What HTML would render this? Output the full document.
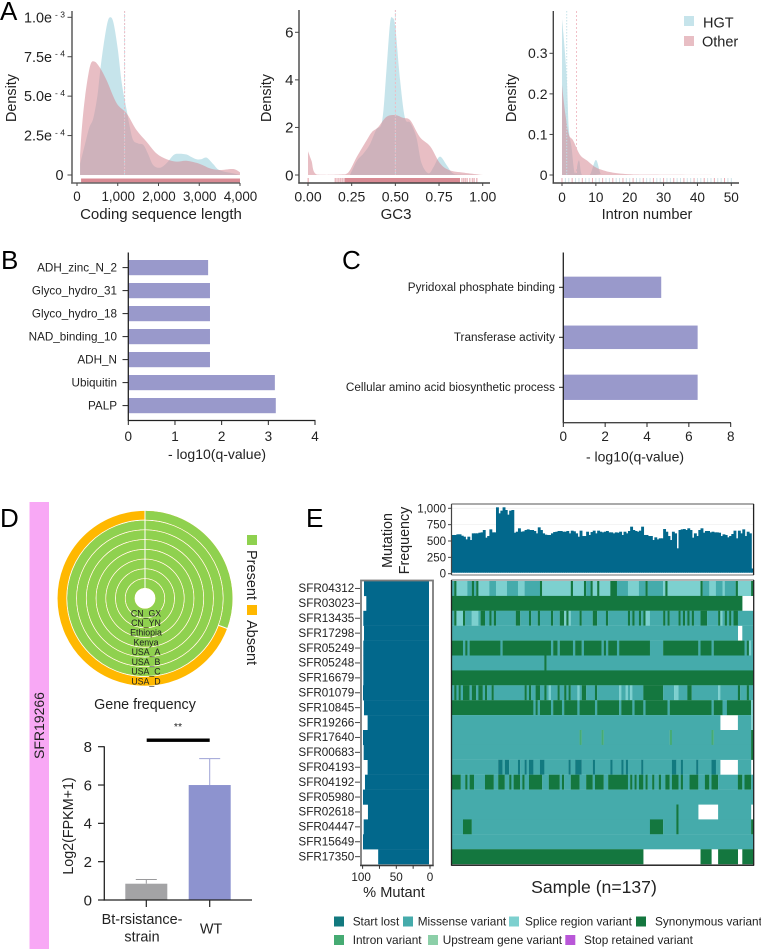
<!DOCTYPE html>
<html lang="en">
<head>
<meta charset="utf-8">
<title>HGT gene features and mutation panels</title>
<style>
html,body{margin:0;padding:0;background:#fff;}
svg{display:block;font-family:"Liberation Sans",sans-serif;}
text{fill:#222;}
.letter{font-size:26px;fill:#000;}
</style>
</head>
<body>
<svg id="fig" xmlns="http://www.w3.org/2000/svg" width="761" height="949" viewBox="0 0 761 949">
<text class="letter" x="0" y="20">A</text>
<text class="letter" x="1" y="269">B</text>
<text class="letter" x="342" y="269">C</text>
<text class="letter" x="0" y="527">D</text>
<text class="letter" x="306" y="527">E</text>

<text x="161" y="219" font-size="15" text-anchor="middle">Coding sequence length</text>
<text x="396" y="219" font-size="15" text-anchor="middle">GC3</text>
<text x="647" y="219" font-size="14.6" text-anchor="middle">Intron number</text>
<text transform="translate(16,98) rotate(-90)" font-size="14.4" text-anchor="middle">Density</text>
<text transform="translate(271,98) rotate(-90)" font-size="14.4" text-anchor="middle">Density</text>
<text transform="translate(516,98) rotate(-90)" font-size="14.4" text-anchor="middle">Density</text>

<rect x="684" y="16" width="10" height="10" fill="#a8d5e0" opacity=".65"/>
<text x="703" y="27.5" font-size="14.5">HGT</text>
<rect x="684" y="36" width="10" height="10" fill="#d58994" opacity=".55"/>
<text x="702" y="46.5" font-size="14.5">Other</text>

<text x="217" y="459" font-size="14" text-anchor="middle">- log10(q-value)</text>
<text x="635" y="461.5" font-size="14" text-anchor="middle">- log10(q-value)</text>

<rect x="29.5" y="502" width="19.5" height="447" fill="#f8a8f5"/>
<text transform="translate(44,725.5) rotate(-90)" font-size="14" text-anchor="middle">SFR19266</text>
<text x="145" y="709" font-size="14.3" text-anchor="middle">Gene frequency</text>
<rect x="247" y="535" width="10" height="10" fill="#8fd14f"/>
<text transform="translate(247,550) rotate(90)" font-size="14.5">Present</text>
<rect x="247" y="605" width="10" height="10" fill="#ffb800"/>
<text transform="translate(247,620) rotate(90)" font-size="14.5">Absent</text>

<text transform="translate(73,826) rotate(-90)" font-size="14.3" text-anchor="middle">Log2(FPKM+1)</text>
<rect x="146.7" y="738.5" width="63" height="3.4" fill="#000"/>
<text x="178" y="730" font-size="10.5" text-anchor="middle">**</text>

<text transform="translate(392,540.5) rotate(-90)" font-size="14.3" text-anchor="middle">Mutation</text>
<text transform="translate(409,540.5) rotate(-90)" font-size="14.3" text-anchor="middle">Frequency</text>
<text x="394" y="897" font-size="14.6" text-anchor="middle">% Mutant</text>
<text x="594" y="893" font-size="17.6" text-anchor="middle">Sample (n=137)</text>

<g font-size="11.8">
<rect x="334" y="916.5" width="10" height="10" fill="#12797f"/>
<text x="352.7" y="925.5">Start lost</text>
<rect x="403" y="916.5" width="10" height="10" fill="#45abab"/>
<text x="417.7" y="925.5">Missense variant</text>
<rect x="509" y="916.5" width="10" height="10" fill="#7dd0cf"/>
<text x="525" y="925.5">Splice region variant</text>
<rect x="636" y="916.5" width="10" height="10" fill="#14773f"/>
<text x="655" y="925.5">Synonymous variant</text>
<rect x="334" y="935" width="10" height="10" fill="#46ab73"/>
<text x="352.7" y="944">Intron variant</text>
<rect x="428" y="935" width="10" height="10" fill="#8ccfa8"/>
<text x="442.7" y="944">Upstream gene variant</text>
<rect x="565.3" y="935" width="10" height="10" fill="#b957d8"/>
<text x="584" y="944">Stop retained variant</text>
</g>
</svg>

<script>
/* ---------- Panel A: density readings ---------- */
const codingHgtX = [75,200,300,400,500,564,650,750,826,900,1000,1100,1220,1300,1380,1500,1630,1750,1870,2040,2200,2370,2500,2690,2800,2935,3050,3180,3340,3500,3835,4000];
const codingHgtY = [0.07,0.2,0.3,0.36,0.5,0.65,0.82,0.97,1.0,0.96,0.8,0.58,0.41,0.3,0.22,0.2,0.19,0.13,0.063,0.046,0.075,0.127,0.135,0.13,0.115,0.1,0.1,0.11,0.07,0.03,0.01,0];
const codingOtherX = [75,120,200,320,425,564,728,973,1220,1460,1710,1950,2200,2445,2690,3017,3263,3500,3835,4000];
const codingOtherY = [0.12,0.3,0.5,0.69,0.72,0.68,0.6,0.455,0.39,0.285,0.21,0.137,0.1,0.085,0.09,0.07,0.042,0.032,0.038,0.017];
const gc3HgtX = [0.24,0.28,0.317,0.355,0.39,0.425,0.45,0.47,0.485,0.5,0.527,0.555,0.585,0.62,0.65,0.69,0.72,0.755,0.795,0.83,0.89,1];
const gc3HgtY = [0,0.6,0.9,1.3,1.9,2.3,4.5,6.4,6.6,6.2,4,2.4,2.2,1.6,0.5,0.07,0.35,0.77,0.4,0.07,0.01,0];
const gc3OtherX = [0,0.02,0.05,0.18,0.23,0.28,0.335,0.365,0.4,0.45,0.5,0.545,0.585,0.64,0.7,0.755,0.81,0.89,1];
const gc3OtherY = [1,0.6,0.02,0.02,0.1,0.77,1.45,1.8,2,2.45,2.52,2.4,2.3,1.6,1.2,0.5,0.2,0.1,0];
const intronHgtX = [0,0.4,1.4,2,2.8,3.8,5,5.9,8.2,10,11.4,13,50];
const intronHgtY = [0.385,0.35,0.24,0.115,0.07,0.004,0.036,0,0,0.037,0.004,0,0];
const intronOtherX = [0,1,2,3.3,5.3,7.5,9.7,12,15,20,26,50];
const intronOtherY = [0.222,0.15,0.1,0.085,0.05,0.035,0.02,0.012,0.006,0.002,0.001,0];
const codingMeans = [1165,1170];
const gc3Means = [0.5,0.5];
const intronMeans = [1.4,4.3];
const codingRugRange = [100,4000];
const gc3RugRange = [0.21,0.87];
const gc3RugSingles = [0,0.155,0.165,0.175,0.185,0.195,0.205,0.88,0.89,0.9,0.91,0.925,0.94,0.95,0.965];
const intronRug = [0,1,2,3,4,5,6,7,8,9,10,11,12,13,14,15,16,17,18,19,20,21,22,23,24,25,26,27,28,29,30,31,32,33,34,35,36,37,38,39,40,41,42,43,44,45,46,47,48,49,50];
const codingXTicks = [0,1000,2000,3000,4000];
const codingXLabels = ['0','1,000','2,000','3,000','4,000'];
const codingYTicks = [0,0.25,0.5,0.75,1];
const codingYMantissas = ['0','2.5e','5.0e','7.5e','1.0e'];
const codingYExponents = ['','- 4','- 4','- 4','- 3'];
const gc3XTicks = [0,0.25,0.5,0.75,1];
const gc3XLabels = ['0.00','0.25','0.50','0.75','1.00'];
const gc3YTicks = [0,2,4,6];
const intronXTicks = [0,10,20,30,40,50];
const intronYTicks = [0,0.1,0.2,0.3];
const intronYLabels = ['0','0.1','0.2','0.3'];

/* ---------- Panels B and C ---------- */
const pfamTerms = ['ADH_zinc_N_2','Glyco_hydro_31','Glyco_hydro_18','NAD_binding_10','ADH_N','Ubiquitin','PALP'];
const pfamValues = [1.71,1.75,1.75,1.75,1.75,3.14,3.16];
const pfamTicks = [0,1,2,3,4];
const goTerms = ['Pyridoxal phosphate binding','Transferase activity','Cellular amino acid biosynthetic process'];
const goValues = [4.68,6.42,6.42];
const goTicks = [0,2,4,6,8];

/* ---------- Panel D ---------- */
const ringNames = ['CN_GX','CN_YN','Ethiopia','Kenya','USA_A','USA_B','USA_C','USA_D'];
const ringPresent = [1,1,1,1,1,1,1,0.306];
const expressionGroups = ['Bt-rsistance-','WT'];
const expressionMeans = [0.85,6];
const expressionErrors = [1.07,7.38];
const expressionTicks = [0,2,4,6,8];

/* ---------- Panel E ---------- */
const mutationFrequency = [592,592,602,602,581,566,525,566,515,617,617,617,627,632,668,551,576,678,632,632,
1015,923,964,1015,974,903,964,974,
627,642,694,642,648,668,678,668,668,653,617,709,668,617,597,592,592,617,637,642,653,653,642,642,653,617,658,648,617,566,658,576,576,642,592,637,658,617,658,
642,632,642,653,632,632,617,632,627,642,592,642,617,653,719,668,653,642,658,719,592,592,576,576,515,556,525,541,541,683,
642,576,515,642,617,388,668,678,683,668,694,668,551,617,576,668,694,627,653,653,632,642,632,632,627,576,602,592,556,576,
607,658,541,658,617,678,576,642,617,80];
const frequencyTicks = [0,250,500,750,1000];
const frequencyLabels = ['0','250','500','750','1,000'];
const geneNames = ['SFR04312','SFR03023','SFR13435','SFR17298','SFR05249','SFR05248','SFR16679','SFR01079','SFR10845','SFR19266','SFR17640','SFR00683','SFR04193','SFR04192','SFR05980','SFR02618','SFR04447','SFR15649','SFR17350'];
const percentMutant = [98.5,95,99.5,98.5,99.5,99.5,99.5,100,98.5,93,100,99,93,97,100,92.5,99,100,77];
const percentTicks = [0,25,50,75,100];
const percentLabels = ['0','','50','','100'];
const sampleCount = 137;
const rowBase = ['P','S','M','M','S','M','S','M','S','M','M','M','M','M','M','M','M','M','S'];
/* each entry: [first sample, run length, variant]; '.' means no mutation */
const rowRuns = [
[[0,1,'M'],[1,1,'S'],[7,3,'M'],[9,1,'S'],[10,1,'M'],[11,1,'S'],[17,3,'M'],[25,5,'M'],[33,8,'M'],[40,1,'S'],[54,1,'S'],[60,1,'S'],[61,2,'M'],[63,1,'S'],[66,1,'S'],[72,3,'S'],[75,5,'M'],[85,4,'M'],[88,1,'S'],[89,7,'M'],[97,1,'S'],[113,1,'S'],[114,3,'M'],[120,3,'M'],[124,5,'M'],[129,1,'S'],[136,1,'S']],
[[132,5,'.']],
[[1,1,'S'],[2,3,'P'],[5,1,'S'],[9,3,'P'],[13,1,'S'],[14,1,'S'],[17,1,'S'],[19,1,'S'],[29,2,'S'],[35,1,'S'],[39,1,'S'],[45,1,'S'],[49,2,'S'],[51,1,'P'],[52,1,'S'],[53,1,'P'],[58,1,'S'],[64,1,'S'],[65,1,'S'],[70,1,'S'],[80,1,'S'],[82,1,'S'],[85,1,'S'],[87,1,'S'],[88,2,'P'],[96,1,'S'],[98,1,'S'],[103,1,'S'],[105,1,'S'],[107,1,'S'],[109,1,'S'],[113,3,'S'],[121,1,'S'],[122,1,'P'],[124,1,'S'],[126,1,'S'],[128,1,'S'],[129,1,'S']],
[[130,2,'.']],
[[5,1,'M'],[7,1,'M'],[22,1,'M'],[45,1,'M'],[48,1,'M'],[55,1,'M'],[59,1,'M'],[68,1,'M'],[70,1,'M'],[75,1,'M'],[90,6,'M'],[112,1,'M'],[118,1,'M'],[133,1,'M'],[135,1,'P'],[136,1,'M']],
[[42,1,'S']],
[],
[[1,1,'S'],[3,1,'S'],[5,3,'S'],[9,1,'S'],[10,1,'S'],[12,1,'S'],[13,1,'S'],[15,1,'S'],[18,1,'S'],[33,1,'S'],[35,1,'S'],[38,1,'S'],[39,1,'S'],[42,1,'S'],[44,1,'P'],[48,1,'S'],[51,1,'S'],[53,1,'S'],[57,1,'P'],[59,1,'S'],[60,1,'S'],[65,1,'S'],[76,1,'P'],[79,1,'P'],[81,1,'P'],[87,3,'S'],[90,6,'S'],[101,2,'P'],[107,1,'S'],[108,1,'S'],[121,1,'P'],[130,1,'S'],[134,1,'S']],
[[37,1,'M'],[39,1,'M'],[45,1,'M'],[50,1,'M'],[57,1,'M'],[65,1,'M'],[76,1,'M'],[82,1,'M'],[87,1,'M'],[98,1,'M'],[118,1,'M'],[123,2,'M'],[136,1,'P']],
[[122,8,'.'],[136,1,'P']],
[[58,1,'I'],[68,1,'I'],[99,1,'I'],[118,1,'I'],[136,1,'S']],
[[136,1,'S']],
[[21,1,'L'],[22,1,'L'],[24,2,'L'],[30,1,'L'],[33,1,'L'],[35,2,'L'],[40,1,'L'],[41,1,'L'],[53,1,'L'],[56,3,'L'],[64,1,'L'],[72,1,'L'],[77,1,'L'],[79,1,'L'],[86,1,'L'],[100,2,'L'],[104,1,'L'],[111,1,'L'],[118,2,'L'],[122,8,'.'],[136,1,'.']],
[[0,4,'S'],[6,1,'S'],[8,2,'S'],[15,2,'S'],[17,2,'S'],[21,3,'S'],[26,1,'S'],[28,3,'S'],[32,1,'S'],[35,6,'S'],[44,5,'S'],[50,1,'S'],[54,1,'S'],[55,3,'S'],[61,3,'S'],[65,2,'S'],[67,2,'S'],[71,6,'S'],[77,3,'S'],[81,1,'S'],[83,1,'S'],[85,2,'S'],[88,1,'S'],[91,1,'S'],[94,1,'S'],[97,2,'S'],[100,3,'S'],[104,1,'S'],[108,4,'S'],[115,2,'S'],[118,3,'S'],[130,2,'S'],[133,3,'S']],
[],
[[102,1,'S'],[112,9,'.'],[136,1,'.']],
[[5,4,'S'],[90,6,'S'],[102,1,'S'],[136,1,'S']],
[],
[[87,26,'.'],[118,3,'.'],[130,2,'.']]
];

/* ---------- helpers ---------- */
const NS = 'http://www.w3.org/2000/svg';
const fig = document.getElementById('fig');
const AXIS = '#444';
const COL_HGT = '#a8d5e0';
const COL_OTHER = '#d58994';
const COL_BAR = '#9999cb';
const VARIANT_COLORS = {M:'#45abab',S:'#14773f',P:'#7dd0cf',L:'#127a80',I:'#46ab73'};

function mk(tag, attrs) {
  const n = document.createElementNS(NS, tag);
  for (const k in attrs) n.setAttribute(k, attrs[k]);
  fig.appendChild(n);
  return n;
}
function line(name, x1, y1, x2, y2, stroke, w) {
  const n = mk('line', {x1:x1, y1:y1, x2:x2, y2:y2, stroke:stroke || AXIS, 'stroke-width':w || 1.3});
  
  
  return n;
}
function rect(name, x, y, w, h, fill) {
  const n = mk('rect', {x:x, y:y, width:w, height:h, fill:fill});
  
  
  return n;
}
function label(name, x, y, str, size, anchor) {
  const n = mk('text', {x:x, y:y + size * 0.35, 'font-size':size, 'text-anchor':anchor || 'middle'});
  n.textContent = str;
  
  
  return n;
}
function linScale(d0, d1, r0, r1) {
  return v => r0 + (v - d0) * (r1 - r0) / (d1 - d0);
}
function densityPath(xs, ys, sx, sy) {
  const px = xs.map(sx), base = sy(0);
  const py = ys.map(v => sy(v));
  let d = 'M' + px[0] + ' ' + base + 'L' + px[0] + ' ' + py[0];
  for (let i = 0; i < px.length - 1; i++) {
    const p0 = Math.max(i - 1, 0), p3 = Math.min(i + 2, px.length - 1);
    const c1x = px[i] + (px[i + 1] - px[p0]) / 6;
    const c1y = Math.min(base, py[i] + (py[i + 1] - py[p0]) / 6);
    const c2x = px[i + 1] - (px[p3] - px[i]) / 6;
    const c2y = Math.min(base, py[i + 1] - (py[p3] - py[i]) / 6);
    d += 'C' + c1x + ' ' + c1y + ' ' + c2x + ' ' + c2y + ' ' + px[i + 1] + ' ' + py[i + 1];
  }
  return d + 'L' + px[px.length - 1] + ' ' + base + 'Z';
}
function densityArea(name, xs, ys, sx, sy, fill, op) {
  const n = mk('path', {d:densityPath(xs, ys, sx, sy), fill:fill, opacity:op});
  
  
  return n;
}
function meanLines(prefix, means, sx, top, bottom) {
  const h = line(prefix + '-hgt-mean-line', sx(means[0]), top, sx(means[0]), bottom, '#bfe0e8', 0.9);
  h.setAttribute('stroke-dasharray', '1.5 1.5');
  const o = line(prefix + '-other-mean-line', sx(means[1]), top, sx(means[1]), bottom, '#f0b9c2', 0.9);
  o.setAttribute('stroke-dasharray', '2 2');
}

/* ---------- Panel A ---------- */
const BASE_Y = 175, AXIS_Y = 183;

/* coding sequence length */
const xA1 = linScale(0, 4000, 77, 240);
const yA1 = linScale(0, 1, BASE_Y, 17.3);
densityArea('coding-density-hgt', codingHgtX, codingHgtY, xA1, yA1, COL_HGT, 0.65);
densityArea('coding-density-other', codingOtherX, codingOtherY, xA1, yA1, COL_OTHER, 0.55);
meanLines('coding', codingMeans, xA1, 11, BASE_Y);
rect('coding-rug', xA1(codingRugRange[0]), 178.5, xA1(codingRugRange[1]) - xA1(codingRugRange[0]), 4.5, '#d98b94');
line('coding-y-axis', 72, 11, 72, AXIS_Y + 0.6, '#666', 1.6);
line('coding-x-axis', 71.2, AXIS_Y, 240, AXIS_Y, '#666', 1.6);
codingXTicks.forEach((t, i) => {
  line('coding-x-tick', xA1(t), AXIS_Y, xA1(t), AXIS_Y + 3, AXIS, 1);
  label('coding-x-tick-label', xA1(t) + (i === 0 ? 0 : 0.5), 196.5, codingXLabels[i], 13.4);
});
codingYTicks.forEach((t, i) => {
  line('coding-y-tick', 67.5, yA1(t), 72, yA1(t), AXIS, 1);
  if (codingYExponents[i]) {
    label('coding-y-tick-mantissa', 52, yA1(t), codingYMantissas[i], 14.4, 'end');
    label('coding-y-tick-exponent', 55, yA1(t) - 3, codingYExponents[i], 8.5, 'start');
  } else {
    label('coding-y-tick-zero', 63.5, yA1(t), codingYMantissas[i], 14.4, 'end');
  }
});

/* GC3 */
const xA2 = linScale(0, 1, 308, 482.7);
const yA2 = linScale(0, 6, BASE_Y, 32.3);
densityArea('gc3-density-hgt', gc3HgtX, gc3HgtY, xA2, yA2, COL_HGT, 0.65);
densityArea('gc3-density-other', gc3OtherX, gc3OtherY, xA2, yA2, COL_OTHER, 0.55);
meanLines('gc3', gc3Means, xA2, 10, BASE_Y);
rect('gc3-rug-dense', xA2(gc3RugRange[0]), 178, xA2(gc3RugRange[1]) - xA2(gc3RugRange[0]), 5, '#d98b94');
gc3RugSingles.forEach(v => {
  rect('gc3-rug-mark', xA2(v) - 0.5, 178, 1.4, 5, '#eab9bf');
});
line('gc3-y-axis', 299, 10, 299, AXIS_Y + 0.6, AXIS, 1.4);
line('gc3-x-axis', 298.3, AXIS_Y, 490, AXIS_Y, AXIS, 1.4);
gc3XTicks.forEach((t, i) => {
  line('gc3-x-tick', xA2(t), AXIS_Y, xA2(t), AXIS_Y + 3, AXIS, 1);
  label('gc3-x-tick-label', xA2(t), 196.5, gc3XLabels[i], 14);
});
gc3YTicks.forEach(t => {
  line('gc3-y-tick', 295, yA2(t), 299, yA2(t), AXIS, 1);
  label('gc3-y-tick-label', 293.5, yA2(t), String(t), 15, 'end');
});

/* intron number */
const xA3 = linScale(0, 50, 562, 731.3);
const yA3 = linScale(0, 0.3, BASE_Y, 53.3);
densityArea('intron-density-hgt', intronHgtX, intronHgtY, xA3, yA3, COL_HGT, 0.65);
densityArea('intron-density-other', intronOtherX, intronOtherY, xA3, yA3, COL_OTHER, 0.55);
meanLines('intron', intronMeans, xA3, 11, BASE_Y);
intronRug.forEach((v, i) => {
  rect('intron-rug-mark', xA3(v) - 0.5, 178, 1, 5, i % 3 === 0 ? '#e9aab3' : '#cfe3e8');
});
line('intron-y-axis', 553.3, 11, 553.3, AXIS_Y + 0.6, AXIS, 1.4);
line('intron-x-axis', 552.6, AXIS_Y, 739, AXIS_Y, AXIS, 1.4);
intronXTicks.forEach(t => {
  line('intron-x-tick', xA3(t), AXIS_Y, xA3(t), AXIS_Y + 3, AXIS, 1);
  label('intron-x-tick-label', xA3(t), 197, String(t), 13.6);
});
intronYTicks.forEach((t, i) => {
  line('intron-y-tick', 549.5, yA3(t), 553.3, yA3(t), AXIS, 1);
  label('intron-y-tick-label', 547.5, yA3(t), intronYLabels[i], 14, 'end');
});

/* ---------- Panel B ---------- */
const xB = linScale(0, 4, 128.3, 315);
pfamTerms.forEach((term, i) => {
  const top = 260 + i * 23;
  rect('pfam-bar-' + term.toLowerCase().replace(/_/g, '-'), xB(0), top, xB(pfamValues[i]) - xB(0), 15.2, COL_BAR);
  line('pfam-y-tick', 122.5, top + 7.6, xB(0), top + 7.6, '#222', 1);
  label('pfam-term-label', 117, top + 7.2, term, 11.7, 'end');
});
line('pfam-y-axis', 128.3, 252.5, 128.3, 421, '#222', 1.3);
line('pfam-x-axis', 128, 420.5, 315.5, 420.5, '#222', 1.3);
pfamTicks.forEach(t => {
  line('pfam-x-tick', xB(t), 420.5, xB(t), 425, '#222', 1);
  label('pfam-x-tick-label', xB(t), 436.5, String(t), 13.5);
});

/* ---------- Panel C ---------- */
const xC = linScale(0, 8, 563.3, 730.7);
const goRowCenters = goTerms.map((_, i) => 287.3 + i * 50);
const goBarHeights = [21.3, 23.5, 25.3];
goTerms.forEach((term, i) => {
  const c = goRowCenters[i];
  rect('go-bar-' + term.split(' ')[0].toLowerCase(), xC(0), c - goBarHeights[i] / 2, xC(goValues[i]) - xC(0), goBarHeights[i], COL_BAR);
  line('go-y-tick', 559, c, xC(0), c, '#222', 1);
  label('go-term-label', 555, c - 0.5, term, 11.72, 'end');
});
line('go-y-axis', 563.3, 252.5, 563.3, 423, '#222', 1.3);
line('go-x-axis', 563, 422.7, 731, 422.7, '#444', 1.3);
goTicks.forEach(t => {
  line('go-x-tick', xC(t), 422.7, xC(t), 427, '#222', 1);
  label('go-x-tick-label', xC(t), 436.5, String(t), 13.5);
});

/* ---------- Panel D: ring chart ---------- */
const CX = 145, CY = 598.3, R_IN = 10, R_STEP = 9.74;
ringNames.forEach((nm, i) => {
  const r0 = R_IN + i * R_STEP, mid = r0 + R_STEP / 2, len = 2 * Math.PI * mid;
  const absent = mk('circle', {cx:CX, cy:CY, r:mid, fill:'none', stroke:'#ffb800', 'stroke-width':R_STEP - 0.9});
  
  
  const present = mk('circle', {cx:CX, cy:CY, r:mid, fill:'none', stroke:'#8fd14f', 'stroke-width':R_STEP - 0.9,
    'stroke-dasharray':(len * ringPresent[i]) + ' ' + len, transform:'rotate(-90 ' + CX + ' ' + CY + ')'});
  
  
  if (ringPresent[i] < 1) {
    const a = 2 * Math.PI * ringPresent[i] - Math.PI / 2;
    line('ring-boundary', CX + r0 * Math.cos(a), CY + r0 * Math.sin(a), CX + (r0 + R_STEP) * Math.cos(a), CY + (r0 + R_STEP) * Math.sin(a), '#fff', 1);
  }
});
line('ring-start-line', CX, CY - 88, CX, CY - R_IN, '#fff', 1);
ringNames.forEach((nm, i) => {
  label('ring-label-' + nm.toLowerCase(), CX + 1, CY + R_IN + (i + 0.5) * R_STEP, nm, 8.8);
});

/* ---------- Panel D: expression bars ---------- */
const yD = linScale(0, 8, 900, 746.7);
const barLefts = [125.3, 188.7];
const barColors = ['#a3a3a5', '#8d93cf'];
const errColors = ['#9a9a9c', '#9ea3d6'];
expressionMeans.forEach((v, i) => {
  const c = barLefts[i] + 21;
  line('expression-error-stem', c, yD(v), c, yD(expressionErrors[i]), errColors[i], 1);
  line('expression-error-cap', c - 10.5, yD(expressionErrors[i]), c + 10.5, yD(expressionErrors[i]), errColors[i], 1);
  rect('expression-bar-' + expressionGroups[i].replace('-', '').toLowerCase(), barLefts[i], yD(v), 42, yD(0) - yD(v), barColors[i]);
  line('expression-x-tick', c, 900, c, 907, '#222', 1.2);
});
line('expression-y-axis', 104.3, 746.2, 104.3, 900.6, '#222', 1.3);
line('expression-x-axis', 103.6, 900, 252, 900, '#222', 1.3);
expressionTicks.forEach(t => {
  line('expression-y-tick', 98, yD(t), 104, yD(t), '#222', 1.2);
  label('expression-y-tick-label', 92, yD(t), String(t), 15, 'end');
});
label('expression-group-label', 142, 919, expressionGroups[0], 14.4);
label('expression-group-label-line-2', 142, 936.5, 'strain', 14.4);
label('expression-group-label', 211, 928.5, expressionGroups[1], 14.4);

/* ---------- Panel E: frequency bars ---------- */
const HM_L = 452, HM_R = 753.3;
const colW = (HM_R - HM_L) / sampleCount;
const yE = linScale(0, 1000, 573.7, 508.3);
rect('frequency-plot-background', HM_L, 504.5, HM_R - HM_L, 70.5, '#fff');
line('frequency-gridline', HM_L, yE(750), HM_R, yE(750), '#f0f0f0', 0.8);
line('frequency-gridline', HM_L, yE(1000), HM_R, yE(1000), '#f0f0f0', 0.8);
mutationFrequency.forEach((v, i) => {
  rect('frequency-bar', HM_L + i * colW, yE(v), Math.min(colW + 0.7, HM_R - HM_L - i * colW), 572.7 - yE(v), '#02688c');
});
line('frequency-frame-top', HM_L - 0.5, 504, HM_R + 0.5, 504, '#8d8d8d', 1.4);
line('frequency-frame-bottom', HM_L - 0.5, 575, HM_R + 0.5, 575, '#8d8d8d', 1.3);
line('frequency-frame-left', HM_L - 0.5, 504, HM_L - 0.5, 575, '#444', 1.2);
line('frequency-frame-right', HM_R + 0.3, 504, HM_R + 0.3, 575, '#222', 1.3);
frequencyTicks.forEach((t, i) => {
  line('frequency-y-tick', 448, yE(t), 451.5, yE(t), '#444', 1);
  label('frequency-y-tick-label', 446, yE(t), frequencyLabels[i], 11.5, 'end');
});

/* ---------- Panel E: percent mutant ---------- */
const ROW_T = 581, ROW_H = 14.9;
const xP = linScale(0, 100, 429, 363);
geneNames.forEach((g, i) => {
  const top = ROW_T + i * ROW_H;
  rect('percent-mutant-bar-' + g.toLowerCase(), xP(percentMutant[i]), top, xP(0) - xP(percentMutant[i]), ROW_H + 0.2, '#02688c');
  line('gene-row-tick', 355, top + ROW_H / 2, 360, top + ROW_H / 2, '#444', 1);
  label('gene-row-label', 354.3, top + ROW_H / 2 - 0.3, g, 11.7, 'end');
});
const frameL = mk('rect', {x:361, y:580.5, width:72, height:285, fill:'none', stroke:'#7b7b7b', 'stroke-width':1.8});


line('percent-mutant-x-axis', 360, 865.3, 433.5, 865.3, '#333', 1.2);
percentTicks.forEach((t, i) => {
  const px = 430 - t * 0.674;
  line('percent-mutant-x-tick', px, 865.3, px, 868.8, '#333', 1);
  if (percentLabels[i]) {
    label('percent-mutant-x-tick-label', px - (t === 100 ? 1.5 : 0), 876.7, percentLabels[i], 11.7);
  }
});

/* ---------- Panel E: heatmap ---------- */
geneNames.forEach((g, r) => {
  const cols = new Array(sampleCount).fill(rowBase[r]);
  rowRuns[r].forEach(run => {
    for (let c = run[0]; c < run[0] + run[1] && c < sampleCount; c++) cols[c] = run[2];
  });
  const top = ROW_T + r * ROW_H;
  let start = 0;
  for (let c = 1; c <= sampleCount; c++) {
    if (c === sampleCount || cols[c] !== cols[start]) {
      if (cols[start] !== '.') {
        rect('heatmap-cell-' + g.toLowerCase(), HM_L + start * colW, top, (c - start) * colW + 0.1, ROW_H + 0.1, VARIANT_COLORS[cols[start]]);
      }
      start = c;
    }
  }
});
line('heatmap-frame-top', HM_L - 0.7, 580, HM_R + 0.7, 580, '#9a9a9a', 1.4);
line('heatmap-frame-left', HM_L - 0.5, 580, HM_L - 0.5, 865.6, '#222', 1.3);
line('heatmap-frame-right', HM_R + 0.4, 580, HM_R + 0.4, 865.6, '#222', 1.3);
line('heatmap-frame-bottom', HM_L - 0.7, 865.2, HM_R + 0.7, 865.2, '#111', 1.4);
</script>
</body>
</html>
